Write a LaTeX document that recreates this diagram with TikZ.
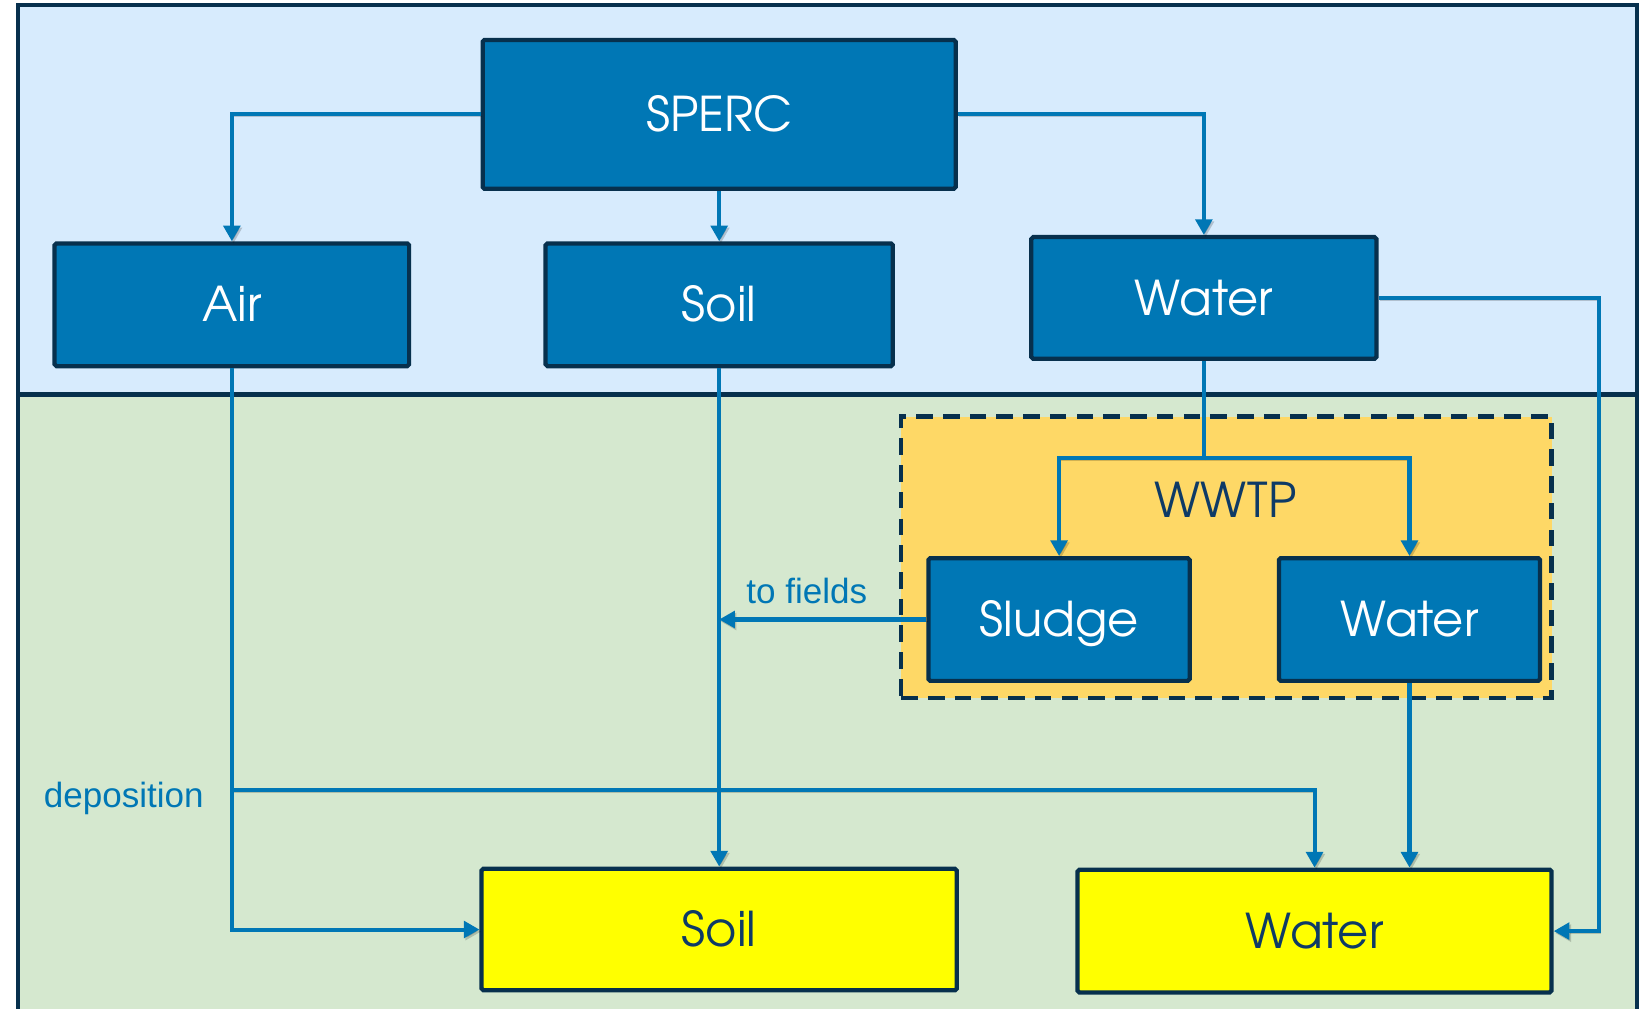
\documentclass[tikz,border=0pt]{standalone}
\usepackage{fontspec}
\newfontfamily\gothic{TeX Gyre Adventor}
\newfontfamily\arial{Liberation Sans}
\usetikzlibrary{arrows.meta}

\definecolor{skyband}{HTML}{D7EBFD}
\definecolor{meadow}{HTML}{D5E8CF}
\definecolor{navy}{HTML}{07304D}
\definecolor{ocean}{HTML}{0077B5}
\definecolor{plantfill}{HTML}{FED866}
\definecolor{sinkfill}{HTML}{FFFF00}
\definecolor{inktext}{HTML}{0E3A66}

\tikzset{
  frame/.style={draw=navy, line width=2.2pt},
  box/.style={draw=navy, line width=2.3pt, fill=ocean, rounded corners=1pt,
    inner sep=0pt, text=white, font=\gothic\fontsize{26}{30}\selectfont,
    text height=18.5pt, text depth=0pt},
  sink/.style={box, fill=sinkfill, text=inktext},
  plant/.style={draw=navy, line width=2.3pt, fill=plantfill, inner sep=0pt,
    dash pattern=on 9pt off 5.5pt},
  flowline/.style={draw=ocean, line width=2.2pt,
    preaction={draw=black, opacity=0.18, transform canvas={xshift=0.9pt, yshift=-1.1pt}}},
  flow/.style={flowline, -{Triangle[width=9pt,length=8.5pt]}},
  note/.style={text=ocean, font=\arial\fontsize{19}{22}\selectfont}
}

\begin{document}
\begin{tikzpicture}[x=0.02cm, y=-0.02cm]
\useasboundingbox (0,0) rectangle (1568,961);

% background bands and frame
\fill[skyband] (17,5) rectangle (1560,376);
\fill[meadow] (17,376) rectangle (1560,1000);
\draw[frame] (17,1000) -- (17,5) -- (1560,5) -- (1560,1000);
\draw[frame] (17,376) -- (1560,376);

% treatment plant area
\node[plant, minimum width=12.4cm, minimum height=5.36cm] (plant) at (1169,531) {};
\node[text=inktext, font=\gothic\fontsize{26}{30}\selectfont,
      text height=18.5pt, text depth=0pt, inner sep=0pt] (plantlabel) at (1168,477) {WWTP};

% release compartments
\node[box, minimum width=9.02cm, minimum height=2.84cm] (sperc) at (685.5,109) {SPERC};
\node[box, minimum width=6.76cm, minimum height=2.34cm] (air) at (221,290.5) {Air};
\node[box, minimum width=6.62cm, minimum height=2.34cm] (soilsrc) at (685.5,290.5) {Soil};
\node[box, minimum width=6.58cm, minimum height=2.32cm] (watersrc) at (1147.5,284) {Water};
\node[box, minimum width=4.98cm, minimum height=2.34cm] (sludge) at (1009.5,590.5) {Sludge};
\node[box, minimum width=4.98cm, minimum height=2.34cm] (plantwater) at (1343.5,590.5) {Water};

% receiving compartments
\node[sink, minimum width=9.06cm, minimum height=2.32cm] (soildst) at (685.5,886) {Soil};
\node[sink, minimum width=9.04cm, minimum height=2.34cm] (waterdst) at (1253,887.5) {Water};

% helper points
\coordinate (split) at (1147.5,437);
\coordinate (airtap) at (221,753);
\coordinate (rail) at (1524,0);

% connectors
\draw[flow] (sperc.west) -| (air.north);
\draw[flow] (sperc.south) -- (soilsrc.north);
\draw[flow] (sperc.east) -| (watersrc.north);
\draw[flowline] (watersrc.south) -- (split);
\draw[flow] (split) -| (sludge.north);
\draw[flow] (split) -| (plantwater.north);
\draw[flow] (watersrc.east) -| (rail |- waterdst.east) -- (waterdst.east);
\draw[flow] (air.south) |- (soildst.west);
\draw[flow] (airtap) -| (waterdst.north);
\draw[flow] (soilsrc.south) -- (soildst.north);
\draw[flow] (sludge.west) -- (sludge.west -| soilsrc.south);
\draw[flow] (plantwater.south) -- (plantwater.south |- waterdst.north);

% flow labels
\node[note] (fieldslabel) at (769,563) {to fields};
\node[note] (depolabel) at (118,761) {deposition};
\end{tikzpicture}
\end{document}
